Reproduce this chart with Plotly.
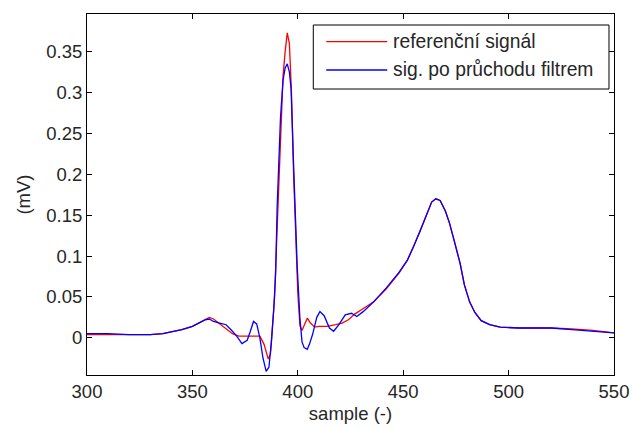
import plotly.graph_objects as go

# Reference signal (red)
ref_x = [300, 310, 320, 330, 336, 340, 345, 350, 355, 358, 360, 363, 366, 369, 372, 376, 380, 382,
         384, 386, 387, 388, 389, 390, 391, 392, 393, 394, 395, 396, 397, 398, 399, 400, 401, 402,
         403, 404.5, 406, 408, 410, 414, 418, 421, 424, 427, 430, 436, 442, 448, 452, 455, 458, 461,
         463.5, 465.5, 467.5, 470, 472, 474.5, 477, 479, 481.5, 484, 487, 491, 496, 505, 515, 520,
         530, 540, 550]
ref_y = [0.004, 0.004, 0.004, 0.004, 0.005, 0.007, 0.010, 0.014, 0.021, 0.025, 0.023, 0.017, 0.011,
         0.005, 0.002, 0.002, 0.002, 0.002, -0.008, -0.026, -0.020, 0.015, 0.050, 0.120, 0.190, 0.260,
         0.320, 0.350, 0.373, 0.360, 0.300, 0.200, 0.120, 0.055, 0.015, 0.009, 0.015, 0.024, 0.018,
         0.013, 0.014, 0.014, 0.016, 0.018, 0.022, 0.029, 0.034, 0.044, 0.060, 0.079, 0.095, 0.112,
         0.130, 0.150, 0.166, 0.170, 0.168, 0.155, 0.140, 0.116, 0.091, 0.065, 0.044, 0.031, 0.021,
         0.016, 0.013, 0.012, 0.012, 0.012, 0.011, 0.009, 0.006]

# Filtered signal (blue)
flt_x = [300, 310, 320, 330, 336, 340, 345, 350, 356, 358, 360, 363, 366, 369, 371, 373.5, 376,
         377.5, 379, 380.5, 382, 383.5, 385, 386.3, 387.5, 388.6, 389.5, 390.2, 391, 391.8, 393, 394,
         395, 396, 396.8, 397.5, 398.1, 399, 399.7, 401, 402, 403, 404.5, 405.5, 407, 409, 410.5,
         412.5, 415, 417, 419.5, 422.5, 425.5, 428, 431, 436, 442, 448, 452, 455, 458, 461, 463.5,
         465.5, 467.5, 470, 472, 474.5, 477, 479, 481.5, 484, 487, 491, 496, 505, 515, 520, 530, 540,
         550]
flt_y = [0.005, 0.005, 0.004, 0.004, 0.005, 0.007, 0.010, 0.014, 0.022, 0.023, 0.020, 0.018, 0.016,
         0.008, 0.002, -0.007, -0.003, 0.008, 0.020, 0.017, 0.000, -0.025, -0.041, -0.036, -0.005,
         0.035, 0.080, 0.160, 0.220, 0.270, 0.315, 0.330, 0.335, 0.325, 0.305, 0.260, 0.205, 0.140,
         0.088, 0.024, -0.005, -0.012, -0.014, -0.008, 0.004, 0.025, 0.032, 0.027, 0.012, 0.008,
         0.016, 0.028, 0.030, 0.026, 0.032, 0.044, 0.061, 0.080, 0.095, 0.112, 0.130, 0.150, 0.166,
         0.170, 0.168, 0.155, 0.140, 0.116, 0.091, 0.065, 0.044, 0.031, 0.021, 0.016, 0.013, 0.012,
         0.012, 0.012, 0.010, 0.008, 0.006]

series_names = ["referenční signál", "sig. po průchodu filtrem"]
series_colors = ["#ff0000", "#0000ff"]

x_ticks = [300, 350, 400, 450, 500, 550]
y_ticks = [0, 0.05, 0.1, 0.15, 0.2, 0.25, 0.3, 0.35]
y_tick_labels = ["0", "0.05", "0.1", "0.15", "0.2", "0.25", "0.3", "0.35"]

FONT = "Liberation Sans, Arial, sans-serif"
TXT = "#262626"

fig = go.Figure()
for xs, ys, name, col in [(ref_x, ref_y, series_names[0], series_colors[0]),
                          (flt_x, flt_y, series_names[1], series_colors[1])]:
    fig.add_trace(go.Scatter(x=xs, y=ys, mode="lines", name=name,
                             line=dict(color=col, width=1.3), showlegend=False))

# Legend drawn MATLAB-style (long sample lines) in paper coordinates
shapes = [dict(type="rect", xref="paper", yref="paper", x0=0.4294, x1=0.9905, y0=0.7922, y1=0.9695,
               line=dict(color="#000000", width=1), fillcolor="#ffffff", layer="above")]
annotations = []
for i, (name, col) in enumerate(zip(series_names, series_colors)):
    yy = 0.9233 - i * 0.0784
    shapes.append(dict(type="line", xref="paper", yref="paper", x0=0.454, x1=0.5697, y0=yy, y1=yy,
                       line=dict(color=col, width=1.3), layer="above"))
    annotations.append(dict(xref="paper", yref="paper", x=0.5773, y=yy, xanchor="left",
                            yanchor="middle", text=name, showarrow=False,
                            font=dict(family=FONT, size=19.3, color=TXT)))

axis_common = dict(showline=True, linecolor="#000000", linewidth=1, mirror="ticks",
                   ticks="inside", ticklen=5, tickcolor="#000000", showgrid=False,
                   zeroline=False, tickfont=dict(family=FONT, size=18.5, color=TXT))

fig.update_layout(
    width=633, height=428,
    margin=dict(l=87, r=19, t=14, b=53),
    paper_bgcolor="#ffffff", plot_bgcolor="#ffffff",
    font=dict(family=FONT, size=18.5, color=TXT),
    showlegend=False,
    shapes=shapes,
    annotations=annotations,
    xaxis=dict(range=[300, 550], tickvals=x_ticks, ticktext=[str(v) for v in x_ticks],
               title=dict(text="sample (-)", standoff=5,
                          font=dict(family=FONT, size=18.5, color=TXT)),
               automargin=False, **axis_common),
    yaxis=dict(range=[-0.0455, 0.396], tickvals=y_ticks, ticktext=y_tick_labels,
               title=dict(text="(mV)", standoff=10,
                          font=dict(family=FONT, size=18.5, color=TXT)),
               automargin=False, **axis_common),
)

fig.write_html("out.html", config={"displayModeBar": False},
               post_script="document.body.style.margin='0';document.body.style.overflow='hidden';")
